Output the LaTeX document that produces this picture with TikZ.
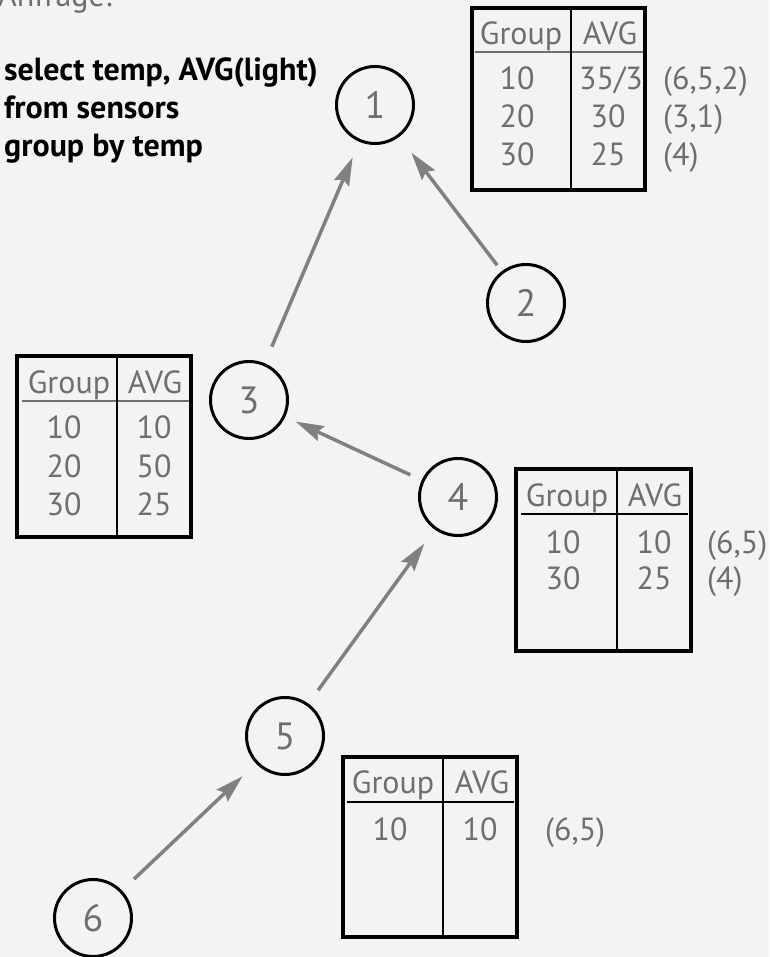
\documentclass[tikz,border=0pt]{standalone}
\usepackage{fontspec}
\setmainfont{PT Sans}
\usetikzlibrary{arrows.meta}
\definecolor{bg}{HTML}{F3F3F3}
\definecolor{txt}{HTML}{6E6E6E}
\definecolor{arrc}{HTML}{808080}
\begin{document}
\begin{tikzpicture}[x=1pt,y=-1pt,
  num/.style={circle,draw=black,line width=3pt,minimum size=77pt,inner sep=0pt,text=txt,font=\fontsize{38}{40}\selectfont},
  cell/.style={anchor=base,text=txt,font=\fontsize{32}{34}\selectfont,inner sep=0pt},
  side/.style={anchor=base west,text=txt,font=\fontsize{32}{34}\selectfont,inner sep=0pt},
  query/.style={anchor=base west,text=black,font=\bfseries\fontsize{32}{34}\selectfont,inner sep=0pt},
  tbox/.style={draw=black,line width=3.5pt},
  hline/.style={line width=1.3pt},
  ghline/.style={line width=1.3pt,draw=txt},
  arrow/.style={draw=arrc,line width=3.5pt,-{Stealth[length=28pt,width=16pt,inset=4pt]}},
]
\fill[bg] (0,0) rectangle (769,957);
\useasboundingbox (0,0) rectangle (769,957);

% heading and query
\node[side] (anf) at (-2,7) {Anfrage:};
\node[query] (q1) at (4,81) {select temp, AVG(light)};
\node[query] (q2) at (4,119) {from sensors};
\node[query] (q3) at (4,157) {group by temp};

% nodes
\node[num] (c1) at (375,105) {1};
\node[num] (c2) at (526,303) {2};
\node[num] (c3) at (249,400) {3};
\node[num] (c4) at (458,497) {4};
\node[num] (c5) at (285,736) {5};
\node[num] (c6) at (93,918) {6};

% arrows
\draw[arrow, shorten <=18pt, shorten >=17pt] (c3) -- (c1);
\draw[arrow, shorten <=7.5pt, shorten >=20pt] (c2) -- (c1);
\draw[arrow, shorten <=12.5pt, shorten >=11.5pt] (c4) -- (c3);
\draw[arrow, shorten <=16.5pt, shorten >=17.5pt] (c5) -- (c4);
\draw[arrow, shorten <=16.5pt, shorten >=18.5pt] (c6) -- (c5);

% table 1
\draw[ghline] (475,52) -- (643,52);
\draw[hline] (571,10) -- (571,190);
\draw[tbox] (472,8) rectangle (645,190);
\node[cell] (t1h1) at (521,45) {Group};
\node[cell] (t1h2) at (610,45) {AVG};
\node[cell] (t1a1) at (517,90) {10};
\node[cell] (t1a2) at (611,90) {35/3};
\node[cell] (t1b1) at (517,128) {20};
\node[cell] (t1b2) at (608,128) {30};
\node[cell] (t1c1) at (517,166) {30};
\node[cell] (t1c2) at (608,166) {25};
\node[side] (t1s1) at (663,90) {(6,5,2)};
\node[side] (t1s2) at (663,128) {(3,1)};
\node[side] (t1s3) at (663,166) {(4)};

% table 3
\draw[ghline] (22,401) -- (189,401);
\draw[hline] (117,358) -- (117,537);
\draw[tbox] (17,356) rectangle (191,537);
\node[cell] (t3h1) at (69,393) {Group};
\node[cell] (t3h2) at (155,393) {AVG};
\node[cell] (t3a1) at (64,438) {10};
\node[cell] (t3a2) at (154,438) {10};
\node[cell] (t3b1) at (64,477) {20};
\node[cell] (t3b2) at (154,477) {50};
\node[cell] (t3c1) at (64,515) {30};
\node[cell] (t3c2) at (154,515) {25};

% table 4
\draw[hline] (521,514) -- (688,514);
\draw[hline] (617,471) -- (617,651);
\draw[tbox] (516,469) rectangle (691,651);
\node[cell] (t4h1) at (567,506) {Group};
\node[cell] (t4h2) at (655,506) {AVG};
\node[cell] (t4a1) at (563,553) {10};
\node[cell] (t4a2) at (654,553) {10};
\node[cell] (t4b1) at (563,589) {30};
\node[cell] (t4b2) at (654,589) {25};
\node[side] (t4s1) at (707,553) {(6,5)};
\node[side] (t4s2) at (707,589) {(4)};

% table 5
\draw[hline] (347,802) -- (514,802);
\draw[hline] (443,759) -- (443,937);
\draw[tbox] (343,757) rectangle (517,937);
\node[cell] (t5h1) at (393,793) {Group};
\node[cell] (t5h2) at (482,793) {AVG};
\node[cell] (t5a1) at (390,840) {10};
\node[cell] (t5a2) at (480,840) {10};
\node[side] (t5s1) at (545,840) {(6,5)};
\end{tikzpicture}
\end{document}
